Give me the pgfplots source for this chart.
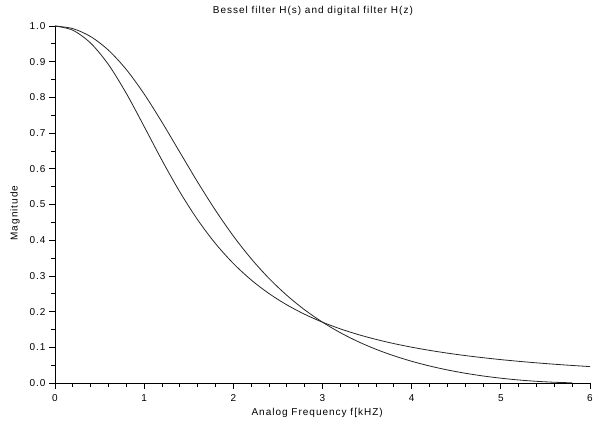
\documentclass[border=0pt]{standalone}
\usepackage{fontspec}
\setmainfont{Liberation Sans}[LetterSpace=10]
\usepackage{pgfplots}
\pgfplotsset{compat=1.18}
\begin{document}
\begin{tikzpicture}
\useasboundingbox (0,0) rectangle (593pt,425pt);
\begin{axis}[
  at={(55pt,42pt)}, anchor=south west,
  scale only axis, width=535pt, height=357pt,
  xmin=0, xmax=6, ymin=0, ymax=1,
  axis x line*=bottom, axis y line*=left,
  axis line style={-, line width=0.9pt, black},
  xtick={0,1,2,3,4,5,6}, ytick={0,0.1,0.2,0.3,0.4,0.5,0.6,0.7,0.8,0.9,1.0},
  minor x tick num=4, minor y tick num=1,
  tick align=outside,
  major tick length=6pt, minor tick length=3.5pt,
  tick style={black, line width=0.7pt},
  /pgf/number format/assume math mode=true,
  yticklabel style={/pgf/number format/.cd, fixed, fixed zerofill, precision=1},
  xticklabel style={yshift=-2pt, /pgf/number format/.cd, fixed, precision=0},
  ticklabel style={font=\fontsize{10}{12}\selectfont},
  every axis title shift=0pt,
  title={Bessel filter H(s) and digital filter H(z)},
  title style={at={(axis description cs:0.482,1.042)}, anchor=center, yshift=0pt, font=\fontsize{10}{12}\selectfont},
  xlabel={Analog Frequency f[kHZ)},
  xlabel style={at={(axis description cs:0.49,-0.084)}, anchor=center, font=\fontsize{10}{12}\selectfont},
  ylabel={Magnitude},
  ylabel style={at={(axis description cs:-0.0748,0.476)}, anchor=center, font=\fontsize{10}{12}\selectfont},
  clip=false,
]
% digital filter H(z)
\addplot[black!85, line width=0.8pt, smooth] coordinates {
(0,1.0) (0.2,0.99268) (0.4,0.97034) (0.6,0.93216) (0.8,0.87798) (1.0,0.80947)
(1.2,0.73047) (1.4,0.64640) (1.6,0.56268) (1.8,0.48361) (2.0,0.41177)
(2.2,0.34823) (2.4,0.29301) (2.6,0.24552) (2.8,0.20493) (3.0,0.17033)
(3.2,0.14087) (3.4,0.11579) (3.6,0.09444) (3.8,0.07627) (4.0,0.06082)
(4.2,0.04771) (4.4,0.03665) (4.6,0.02738) (4.8,0.01970) (5.0,0.01344)
(5.2,0.00848) (5.4,0.00472) (5.6,0.00208) (5.8,0.00052)
};
% analog Bessel filter H(s)
\addplot[black!85, line width=0.8pt, smooth] coordinates {
(0,1.0) (0.2,0.98814) (0.4,0.95206) (0.6,0.89182) (0.8,0.81117) (1.0,0.71846)
(1.2,0.62379) (1.4,0.53519) (1.6,0.45701) (1.8,0.39043) (2.0,0.33480)
(2.2,0.28870) (2.4,0.25054) (2.6,0.21888) (2.8,0.19248) (3.0,0.17033)
(3.2,0.15163) (3.4,0.13574) (3.6,0.12214) (3.8,0.11043) (4.0,0.10028)
(4.2,0.09145) (4.4,0.08370) (4.6,0.07689) (4.8,0.07086) (5.0,0.06551)
(5.2,0.06073) (5.4,0.05645) (5.6,0.05260) (5.8,0.04913) (6.0,0.04599)
};
\end{axis}
\end{tikzpicture}
\end{document}
